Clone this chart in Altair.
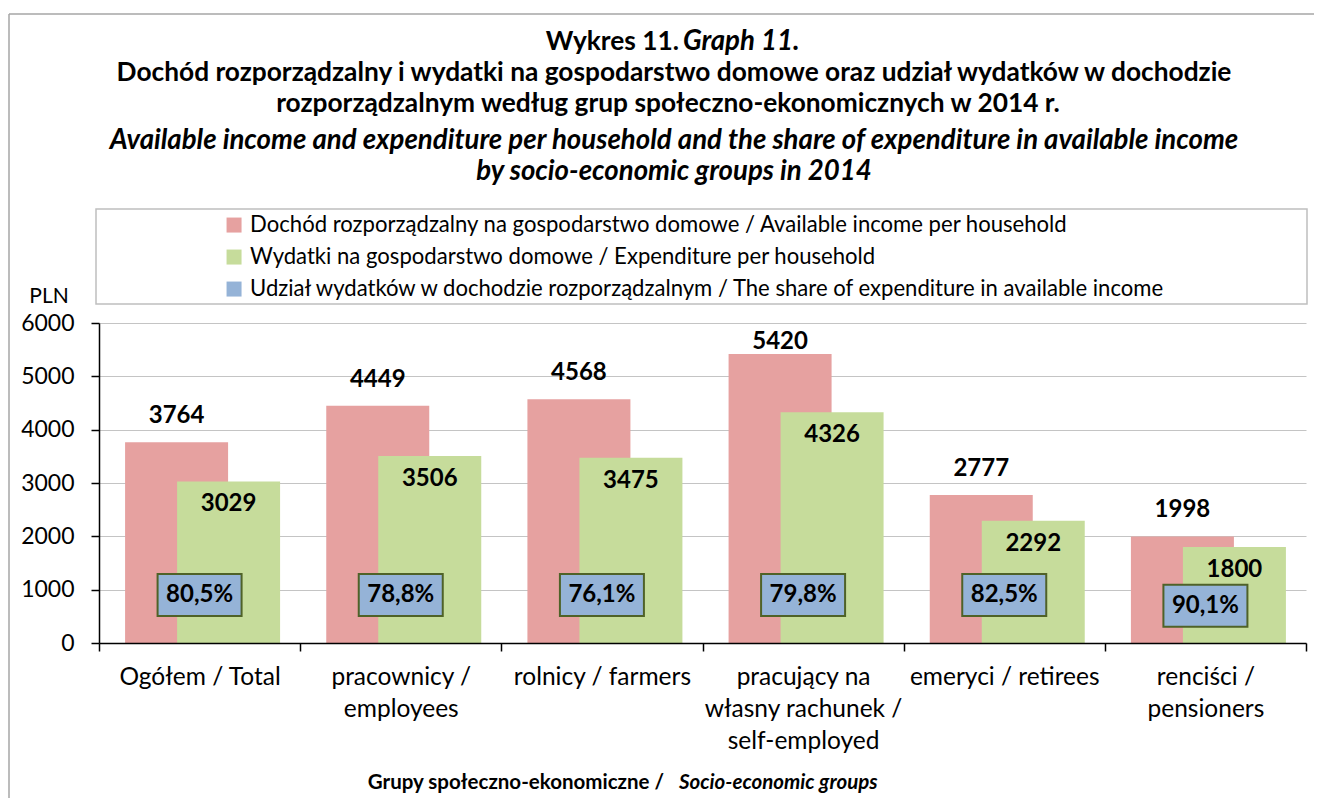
import json
import altair as alt
import pandas as pd

# ---------------- data ----------------
categories = [
    "Ogółem / Total",
    "pracownicy /\nemployees",
    "rolnicy / farmers",
    "pracujący na\nwłasny rachunek /\nself-employed",
    "emeryci / retirees",
    "renciści /\npensioners",
]
income = [3764, 4449, 4568, 5420, 2777, 1998]
expenditure = [3029, 3506, 3475, 4326, 2292, 1800]
share = [80.5, 78.8, 76.1, 79.8, 82.5, 90.1]

series = [
    "Dochód rozporządzalny na gospodarstwo domowe / Available income per household",
    "Wydatki na gospodarstwo domowe / Expenditure per household",
    "Udział wydatków w dochodzie rozporządzalnym / The share of expenditure in available income",
]
y_ticks = [0, 1000, 2000, 3000, 4000, 5000, 6000]

title_bold = [
    "Dochód rozporządzalny i wydatki na gospodarstwo domowe oraz udział wydatków w dochodzie",
    "rozporządzalnym według grup społeczno-ekonomicznych w 2014 r.",
]
title_italic = [
    "Available income and expenditure per household and the share of expenditure in available income",
    "by socio-economic groups in 2014",
]

# ---------------- styles ----------------
FONT = "Lato"
PINK = "#E6A1A0"
GREEN = "#C6DC9B"
BLUE = "#95B3D7"
BOX_STROKE = "#4F6228"
W, H = 1207, 320

df = pd.DataFrame({"group": categories, "income": income,
                   "expenditure": expenditure, "share": share})

x_enc = alt.X(
    "group:N", sort=categories,
    scale=alt.Scale(paddingInner=0, paddingOuter=0),
    axis=alt.Axis(title=None, labelAngle=0, labelExpr="split(datum.label, '\\n')",
                  labelFontSize=24.5, labelLineHeight=32, labelPadding=14,
                  labelColor="black", labelLimit=400, labelBaseline="top",
                  tickBand="extent", tickSize=8, tickColor="black",
                  domainColor="black", domainWidth=1.5, tickWidth=1.5,
                  grid=False, zindex=1),
)
y_scale = alt.Scale(domain=[0, 6000], nice=False)
y_axis = alt.Axis(title=None, values=y_ticks, format="d", labelFontSize=23,
                  labelPadding=17, labelColor="black", tickSize=8, tickColor="black",
                  tickWidth=1.5, domainColor="black", domainWidth=1.5,
                  gridColor="#C4C4C4", gridWidth=1)

color_scale = alt.Scale(domain=series, range=[PINK, GREEN, BLUE])
legend = alt.Legend(orient="none", legendX=124, legendY=-109, padding=0,
                    symbolType="square", symbolSize=225, symbolStrokeWidth=0,
                    labelFontSize=22.1, labelOffset=5, rowPadding=9,
                    labelLimit=2000, labelColor="black", direction="vertical")

base = alt.Chart(df)

pink = base.transform_calculate(series=json.dumps(series[0])).mark_bar(
    width=103, xOffset=-23).encode(
    x=x_enc,
    y=alt.Y("income:Q", scale=y_scale, axis=y_axis),
    color=alt.Color("series:N", scale=color_scale, legend=legend, title=None),
)
green = base.transform_calculate(series=json.dumps(series[1])).mark_bar(
    width=103, xOffset=29).encode(
    x=x_enc,
    y=alt.Y("expenditure:Q", scale=y_scale, axis=y_axis),
    color=alt.Color("series:N", scale=color_scale, legend=legend, title=None),
)
pink_lab = base.transform_calculate(
    lab_y="min(datum.income + 490, 5650)"
).mark_text(fontWeight="bold", fontSize=24, xOffset=-23, baseline="middle",
            color="black").encode(
    x=x_enc, y=alt.Y("lab_y:Q", scale=y_scale, axis=y_axis),
    text=alt.Text("income:Q", format="d"),
)
green_lab = base.mark_text(fontWeight="bold", fontSize=24, xOffset=29, dy=23,
                           baseline="middle", color="black").encode(
    x=x_enc, y=alt.Y("expenditure:Q", scale=y_scale, axis=y_axis),
    text=alt.Text("expenditure:Q", format="d"),
)
# share boxes sit low in each group, below the expenditure label
share_base = base.transform_calculate(
    box_y="min(900, datum.expenditure - 1100)",
    share_lab="replace(format(datum.share, '.1f'), '.', ',') + '%'",
)
boxes = share_base.mark_point(shape="M-1,-0.5H1V0.5H-1Z", size=7056, filled=True,
                              fill=BLUE, stroke=BOX_STROKE, strokeWidth=2,
                              opacity=1).encode(
    x=x_enc, y=alt.Y("box_y:Q", scale=y_scale, axis=y_axis),
)
box_lab = share_base.mark_text(fontWeight="bold", fontSize=24, baseline="middle",
                               color="black").encode(
    x=x_enc, y=alt.Y("box_y:Q", scale=y_scale, axis=y_axis),
    text="share_lab:N",
)

one = alt.Chart(pd.DataFrame({"k": [0]}))

# outer chart frame: only its top and left edges fall inside the picture
frame_top = one.mark_rule(color="#A6A6A6", strokeWidth=1.5).encode(
    x=alt.value(-90), x2=alt.value(1230), y=alt.value(-309))
frame_left = one.mark_rule(color="#A6A6A6", strokeWidth=1.5).encode(
    x=alt.value(-90), y=alt.value(-309), y2=alt.value(500))
legend_box = one.mark_rect(fill="white", stroke="#BFBFBF", strokeWidth=1.5).encode(
    x=alt.value(-3), x2=alt.value(1208), y=alt.value(-114), y2=alt.value(-19))


def txt(text, x, y, align="center", weight="bold", style="normal", size=26.3):
    return one.mark_text(align=align, baseline="middle", fontWeight=weight,
                         fontStyle=style, fontSize=size, color="black").encode(
        x=alt.value(x), y=alt.value(y), text=alt.value(text))


annotations = [
    txt("Wykres 11.", 580, -281, align="right"),
    txt("Graph 11.", 584, -281, align="left", style="italic", size=27.6),
    txt(title_bold[0], 575, -250),
    txt(title_bold[1], 569, -219),
    txt(title_italic[0], 575, -182, style="italic", size=27.6),
    txt(title_italic[1], 575, -151, style="italic", size=27.6),
    txt("PLN", -50, -26, weight="normal", size=21),
    txt("Grupy społeczno-ekonomiczne /", 565, 460, align="right", size=20.5),
    txt("Socio-economic groups", 580, 460, align="left", style="italic", size=20.5),
]

chart = alt.layer(
    frame_top, frame_left, legend_box, pink, green, pink_lab, green_lab,
    boxes, box_lab, *annotations
).properties(
    width=W, height=H,
    autosize=alt.AutoSizeParams(type="none"),
    padding={"left": 91, "top": 315, "right": 8, "bottom": 160},
).configure(font=FONT).configure_view(stroke=None)

chart.save("out.html", embed_options={"renderer": "svg", "actions": False})
